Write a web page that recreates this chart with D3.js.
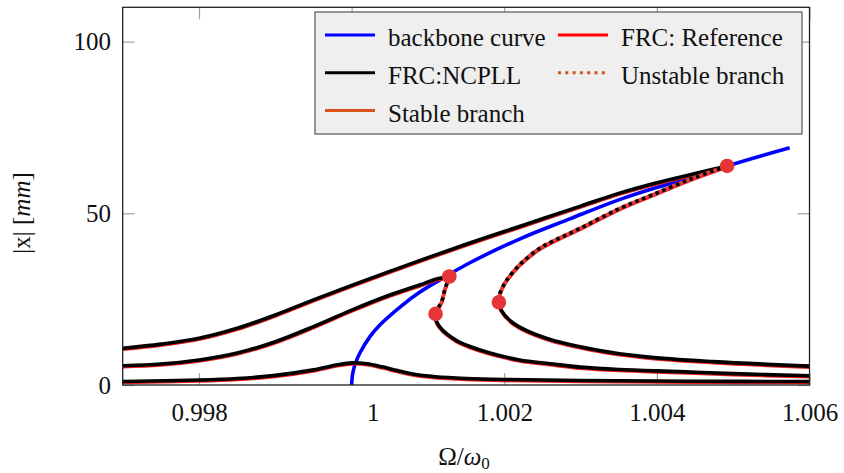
<!DOCTYPE html>
<html>
<head>
<meta charset="utf-8">
<script src="https://cdn.jsdelivr.net/npm/d3@7/dist/d3.min.js"></script>
<style>
  html, body { margin: 0; padding: 0; background: #fff; }
</style>
</head>
<body>
<svg id="chart" width="844" height="473"></svg>
<script>
// Frequency axis ticks and amplitude ticks
const xTicks = [0.998, 1.0, 1.002, 1.004, 1.006];
const xTickLabels = ["0.998", "1", "1.002", "1.004", "1.006"];
const yTicks = [0, 50, 100];

// Backbone curve
const backboneOmega = [1.0, 1.00001, 1.00003, 1.00005, 1.00011, 1.00024, 1.00037, 1.00065, 1.00089, 1.00111, 1.00155, 1.0022, 1.00285, 1.00351, 1.00417, 1.00492, 1.00574];
const backboneAmp   = [0, 2.8, 4.9, 6.4, 9.4, 14.1, 17.5, 23.0, 27.0, 30.0, 35.6, 42.5, 48.3, 54.0, 58.7, 63.8, 69.1];

// Low forcing level: single stable branch
const lowOmega = [0.997, 0.998, 0.9985, 0.999, 0.9995, 0.9998, 1.0, 1.0002, 1.0004, 1.0006, 1.0008, 1.0011, 1.0015, 1.002, 1.003, 1.0045, 1.006];
const lowAmp   = [1.0, 1.45, 1.9, 2.8, 4.4, 5.8, 6.45, 6.2, 5.3, 4.2, 3.2, 2.4, 1.9, 1.6, 1.3, 1.1, 1.0];

// Medium forcing level
const midUpperOmega = [0.997, 0.9975, 0.998, 0.9985, 0.999, 0.9995, 1.0, 1.0005, 1.0009, 1.0011, 1.00128];
const midUpperAmp   = [5.6, 6.1, 7.3, 9.3, 12.6, 17.0, 21.8, 26.2, 29.2, 30.8, 31.6];
const midUnstableOmega = [1.00128, 1.00122, 1.00118, 1.00113, 1.0011];
const midUnstableAmp   = [31.6, 27.7, 24.3, 22.3, 20.7];
const midLowerOmega = [1.0011, 1.00111, 1.00116, 1.00124, 1.00137, 1.00155, 1.0018, 1.0022, 1.0026, 1.003, 1.0035, 1.0043, 1.005, 1.006];
const midLowerAmp   = [20.7, 18.6, 16.8, 15.0, 13.0, 11.2, 9.4, 7.3, 6.2, 5.2, 4.5, 3.9, 3.3, 2.7];

// High forcing level
const highUpperOmega = [0.997, 0.9975, 0.998, 0.9985, 0.999, 0.9995, 1.0, 1.0005, 1.001, 1.0015, 1.002, 1.0025, 1.003, 1.0035, 1.004, 1.0045, 1.00492];
const highUpperAmp   = [10.7, 11.9, 13.6, 16.5, 20.4, 24.8, 29.0, 33.1, 37.1, 41.0, 44.7, 48.4, 52.1, 55.8, 58.9, 61.6, 63.8];
const highUnstableOmega = [1.00492, 1.00447, 1.00393, 1.00351, 1.00299, 1.00262, 1.00245, 1.0022, 1.00203, 1.00198, 1.001935, 1.00193];
const highUnstableAmp   = [63.8, 60.2, 55.3, 51.4, 45.6, 41.7, 39.6, 35.0, 30.5, 28.6, 26.0, 24.1];
const highLowerOmega = [1.00193, 1.00196, 1.00212, 1.00255, 1.00321, 1.00386, 1.00474, 1.006];
const highLowerAmp   = [24.1, 21.8, 18.0, 13.6, 10.2, 8.2, 6.8, 5.5];

// Saddle-node bifurcation points
const bifOmega = [1.00128, 1.0011, 1.00193, 1.00492];
const bifAmp   = [31.6, 20.7, 24.1, 63.8];

const zip = (a, b) => a.map((v, i) => [v, b[i]]);

const serif = "Liberation Serif";
const svg = d3.select("#chart");
const plotL = 122.7, plotR = 809.5, plotT = 7.3, plotB = 385;

const x = d3.scaleLinear().domain([0.997, 1.006]).range([plotL, plotR]);
const y = d3.scaleLinear().domain([0, 110]).range([plotB, plotT]);

svg.append("defs").append("clipPath").attr("id", "plotClip")
  .append("rect").attr("x", plotL).attr("y", plotT)
  .attr("width", plotR - plotL).attr("height", plotB - plotT);

// Inward grey ticks on all four sides
const tickColor = "#a0a0a0";
const fontSize = 25;

const gx = svg.append("g").attr("transform", `translate(0,${plotB})`)
  .call(d3.axisBottom(x).tickValues(xTicks).tickSize(-12).tickPadding(18)
    .tickFormat((d, i) => xTickLabels[i]));
const gxTop = svg.append("g").attr("transform", `translate(0,${plotT})`)
  .call(d3.axisTop(x).tickValues(xTicks).tickSize(-12).tickFormat(""));
const gy = svg.append("g").attr("transform", `translate(${plotL},0)`)
  .call(d3.axisLeft(y).tickValues(yTicks).tickSize(-12).tickPadding(11.7)
    .tickFormat(d3.format("d")));
const gyRight = svg.append("g").attr("transform", `translate(${plotR},0)`)
  .call(d3.axisRight(y).tickValues(yTicks).tickSize(-12).tickFormat(""));

[gx, gxTop, gy, gyRight].forEach(g => {
  g.attr("font-family", serif).attr("font-size", fontSize);
  g.select(".domain").remove();
  g.selectAll(".tick line").attr("stroke", tickColor).attr("stroke-width", 1.2);
  g.selectAll(".tick text").attr("fill", "#111")
    .attr("font-family", serif).attr("font-size", fontSize);
});
gx.selectAll(".tick text").filter(d => d === 1.0).attr("dx", 21);

const plot = svg.append("g").attr("clip-path", "url(#plotClip)");
const line = d3.line().x(d => x(d[0])).y(d => y(d[1])).curve(d3.curveCatmullRom.alpha(0.5));

const lw = 3.6;

// Backbone curve
plot.append("path").datum(zip(backboneOmega, backboneAmp))
  .attr("d", line).attr("fill", "none").attr("stroke", "#0000ff").attr("stroke-width", lw);

const stable = [
  zip(lowOmega, lowAmp),
  zip(midUpperOmega, midUpperAmp), zip(midLowerOmega, midLowerAmp),
  zip(highUpperOmega, highUpperAmp), zip(highLowerOmega, highLowerAmp)
];
const unstable = [zip(midUnstableOmega, midUnstableAmp), zip(highUnstableOmega, highUnstableAmp)];

// Reference FRC (red), just below the NCPLL result
stable.concat(unstable).forEach(pts => {
  plot.append("path").datum(pts).attr("d", line)
    .attr("transform", "translate(0,1)")
    .attr("fill", "none").attr("stroke", "#f02020").attr("stroke-width", lw);
});

// NCPLL FRC (black): solid on stable branches, dotted on unstable ones
stable.forEach(pts => {
  plot.append("path").datum(pts).attr("d", line)
    .attr("fill", "none").attr("stroke", "#000").attr("stroke-width", lw);
});
unstable.forEach(pts => {
  plot.append("path").datum(pts).attr("d", line)
    .attr("fill", "none").attr("stroke", "#e83a3a").attr("stroke-width", lw);
  plot.append("path").datum(pts).attr("d", line)
    .attr("fill", "none").attr("stroke", "#000").attr("stroke-width", lw)
    .attr("stroke-dasharray", "3.5,3.8");
});

// Bifurcation markers
svg.append("g").selectAll("circle").data(zip(bifOmega, bifAmp)).join("circle")
  .attr("cx", d => x(d[0])).attr("cy", d => y(d[1])).attr("r", 7.3)
  .attr("fill", "#e63537");

// Plot frame
svg.append("rect").attr("x", plotL).attr("y", plotT)
  .attr("width", plotR - plotL).attr("height", plotB - plotT)
  .attr("fill", "none").attr("stroke", "#222").attr("stroke-width", 1.3);

// Axis labels
const xl = svg.append("text").attr("x", 464).attr("y", 465).attr("text-anchor", "middle")
  .attr("font-family", serif).attr("font-size", fontSize).attr("fill", "#111");
xl.append("tspan").text("Ω/");
xl.append("tspan").attr("font-style", "italic").text("ω");
xl.append("tspan").attr("font-size", 17).attr("dy", 4).text("0");

const yl = svg.append("text").attr("transform", "translate(30,213) rotate(-90)")
  .attr("text-anchor", "middle").attr("font-family", serif)
  .attr("font-size", fontSize).attr("fill", "#111");
yl.append("tspan").text("|x| [");
yl.append("tspan").attr("font-style", "italic").text("mm");
yl.append("tspan").text("]");

// Legend
const legendItems = [
  { label: "backbone curve", color: "#0000ff", dash: null, col: 0, row: 0 },
  { label: "FRC: Reference", color: "#ff0000", dash: null, col: 1, row: 0 },
  { label: "FRC:NCPLL", color: "#000000", dash: null, col: 0, row: 1 },
  { label: "Unstable branch", color: "#d95319", dash: "3,4.3", col: 1, row: 1 },
  { label: "Stable branch", color: "#d95319", dash: null, col: 0, row: 2 }
];
const legend = svg.append("g");
legend.append("rect").attr("x", 315).attr("y", 12).attr("width", 487).attr("height", 122)
  .attr("fill", "#efefef").attr("stroke", "#555").attr("stroke-width", 1.2);
const colX = [325, 558], rowY = [35, 72.7, 110.5];
legendItems.forEach(it => {
  const lx = colX[it.col], ly = rowY[it.row];
  legend.append("line").attr("x1", lx).attr("x2", lx + 50).attr("y1", ly).attr("y2", ly)
    .attr("stroke", it.color).attr("stroke-width", 3)
    .attr("stroke-dasharray", it.dash);
  legend.append("text").attr("x", lx + 63).attr("y", ly + 11)
    .attr("font-family", serif).attr("font-size", fontSize)
    .attr("fill", "#111").text(it.label);
});
</script>
</body>
</html>
